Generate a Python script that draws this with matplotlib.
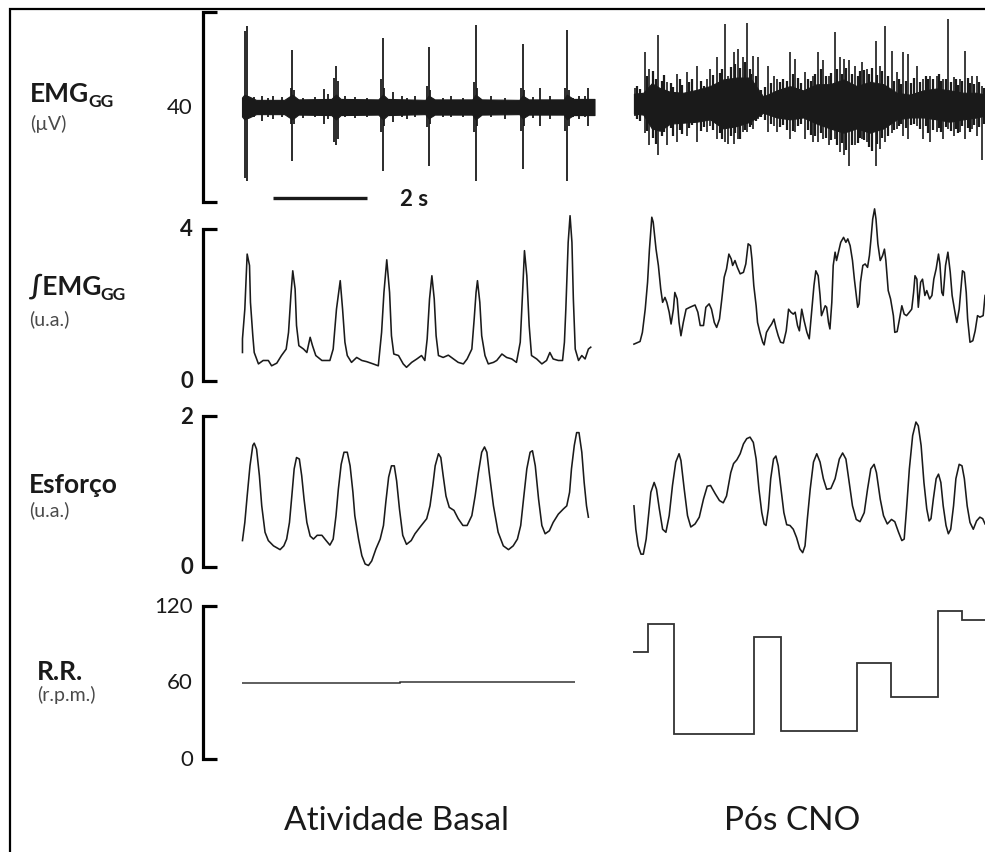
import numpy as np
import matplotlib.pyplot as plt
from matplotlib import transforms
from matplotlib.patches import Rectangle

plt.rcParams['font.family'] = ['Lato', 'DejaVu Sans']

W, H = 985, 853

# ---------------- data ----------------
# time in s (each block starts at 0), EMG in uV, integrated EMG / effort in a.u., RR in rpm

# EMG basal: background band + bursts (t, top, bottom)
emg_basal_band_t = [0.0, 0.05, 0.15, 0.3, 0.9, 1.07, 1.2, 1.9, 2.0, 2.1, 2.9, 3.0, 3.1,
                    3.9, 3.97, 4.1, 4.9, 4.97, 5.1, 5.9, 5.97, 6.1, 6.85, 6.91, 7.05, 7.5]
emg_basal_band_top = [2.0, 2.6, 2.2, 1.5, 1.5, 2.6, 1.6, 1.7, 2.6, 1.7, 1.6, 2.6, 1.7,
                      1.5, 2.4, 1.6, 1.6, 2.6, 1.6, 1.5, 2.4, 1.6, 1.6, 2.6, 1.7, 1.7]
emg_basal_band_bot = [-2.0, -2.6, -2.2, -1.5, -1.5, -2.6, -1.6, -1.7, -2.6, -1.7, -1.6, -2.6, -1.7,
                      -1.5, -2.4, -1.6, -1.6, -2.6, -1.6, -1.5, -2.4, -1.6, -1.6, -2.6, -1.7, -1.7]
emg_basal_spikes = [
    (0.06, 16.0, -15.0), (0.10, 17.1, -15.5), (1.07, 11.9, -11.3), (2.01, 8.7, -8.1),
    (2.99, 14.5, -13.4), (3.97, 12.6, -12.4), (4.97, 17.3, -15.5), (5.97, 13.3, -13.1),
    (6.91, 16.3, -15.5), (7.37, 4.1, -3.9),
    (1.04, 4.1, -3.6), (1.96, 6.2, -7.4), (2.05, 5.5, -6.7), (2.95, 5.9, -5.3),
    (3.93, 4.5, -4.3), (4.94, 5.2, -5.3), (5.94, 4.1, -5.0), (6.87, 4.1, -5.0),
    (1.10, 3.5, -3.5), (3.03, 4.0, -4.0), (4.00, 3.5, -3.5), (5.00, 4.0, -4.0),
    (6.00, 3.5, -4.0), (6.95, 3.5, -4.0),
    (0.42, 2.4, -2.9), (0.67, 2.4, -2.5), (1.75, 3.8, -3.6), (1.84, 2.7, -2.5),
    (2.19, 2.4, -2.2), (3.21, 3.1, -3.2), (3.68, 2.4, -2.2), (4.28, 2.0, -2.2),
    (6.34, 4.1, -3.9), (6.55, 2.4, -2.5), (7.16, 2.4, -2.5), (0.25, 2.2, -2.0),
    (0.55, 2.0, -2.2), (0.85, 2.2, -2.0), (1.30, 2.0, -2.4), (1.55, 2.2, -2.0),
    (2.40, 2.2, -2.4), (2.65, 2.0, -2.0), (3.40, 2.4, -2.2), (3.50, 2.0, -2.6),
    (4.45, 2.3, -2.0), (4.70, 2.0, -2.2), (5.30, 2.4, -2.0), (5.60, 2.0, -2.5),
    (6.20, 2.2, -2.3), (7.05, 2.0, -2.2), (7.30, 2.3, -2.0),
]

# EMG after CNO: dense core envelope + spikes
emg_cno_core_t = [0.02, 0.22, 0.40, 0.57, 0.79, 1.07, 1.35, 1.64, 1.92, 2.21, 2.49, 2.77, 3.06, 3.34,
                  3.62, 3.91, 4.19, 4.48, 4.76, 5.04, 5.33, 5.61, 5.89, 6.18, 6.46, 6.74, 7.03, 7.31, 7.49]
emg_cno_core_top = [2.8, 3.0, 5.0, 4.0, 3.2, 3.0, 3.6, 4.4, 5.8, 6.2, 6.2, 2.2, 3.5, 4.4,
                    3.5, 4.8, 4.8, 5.8, 4.4, 5.3, 4.8, 3.0, 2.6, 3.5, 3.9, 3.5, 3.0, 3.0, 2.6]
emg_cno_core_bot = [-1.4, -1.6, -4.5, -5.0, -3.5, -3.3, -3.1, -2.6, -4.5, -4.0, -3.1, -1.2, -2.2, -2.6,
                    -2.2, -3.5, -4.5, -5.4, -4.5, -5.4, -4.5, -2.6, -2.2, -2.2, -2.6, -3.1, -2.6, -2.2, -1.8]
emg_cno_spikes = [
    (0.04, 4.1, -1.8), (0.26, 11.6, -5.5), (0.35, 8.1, -8.1), (0.54, 15.2, -10.2),
    (0.72, 5.2, -8.1), (0.93, 6.9, -7.4), (1.14, 7.3, -6.0), (1.36, 8.7, -7.4),
    (1.57, 6.0, -5.3), (1.64, 8.0, -3.9), (1.78, 10.5, -6.7), (1.96, 17.5, -7.4),
    (2.03, 6.6, -7.8), (2.14, 11.5, -7.8), (2.24, 12.2, -6.7), (2.35, 10.5, -5.3),
    (2.43, 17.7, -5.3), (2.56, 10.8, -4.6), (2.67, 10.5, -2.5), (2.88, 8.7, -5.3),
    (2.99, 6.6, -3.9), (3.06, 6.0, -5.3), (3.34, 11.5, -6.7), (3.45, 10.1, -5.3),
    (3.66, 7.4, -6.7), (3.84, 6.6, -7.4), (3.94, 11.5, -7.4), (4.05, 9.8, -6.7),
    (4.16, 6.6, -8.1), (4.30, 15.7, -6.7), (4.40, 10.5, -9.5), (4.48, 10.1, -10.2),
    (4.60, 9.8, -12.4), (4.72, 8.7, -8.1), (4.87, 9.4, -6.7), (4.97, 8.0, -7.4),
    (5.16, 13.9, -12.4), (5.26, 8.7, -8.8), (5.36, 17.1, -7.4), (5.50, 11.8, -5.5),
    (5.61, 7.3, -4.6), (5.75, 11.5, -6.0), (5.86, 11.2, -6.7), (6.04, 8.7, -3.9),
    (6.18, 6.0, -6.7), (6.32, 6.6, -7.4), (6.46, 6.6, -5.3), (6.60, 6.0, -6.7),
    (6.71, 18.5, -4.6), (6.82, 6.3, -6.0), (6.96, 6.0, -5.3), (7.06, 11.8, -6.7),
    (7.21, 6.6, -4.6), (7.31, 6.6, -6.0), (7.42, 4.5, -11.2),
]
emg_cno_mid_spikes = [
    (0.08, 4.5, -2.5), (0.15, 3.8, -3.0), (0.30, 6.5, -5.0), (0.42, 7.5, -6.5), (0.48, 6.0, -7.8),
    (0.62, 5.5, -6.0), (0.67, 6.8, -5.2), (0.80, 5.0, -4.5), (0.86, 4.2, -6.2), (1.00, 5.8, -4.8),
    (1.05, 4.6, -5.6), (1.20, 5.2, -4.4), (1.26, 6.0, -3.8), (1.45, 5.5, -5.0), (1.50, 4.5, -4.2),
    (1.70, 6.8, -4.8), (1.85, 7.2, -5.5), (1.90, 8.0, -6.8), (2.08, 8.5, -6.2), (2.18, 9.0, -5.5),
    (2.28, 8.2, -6.8), (2.38, 9.5, -4.8), (2.48, 8.0, -4.2), (2.52, 7.0, -3.8), (2.62, 6.5, -3.0),
    (2.72, 3.5, -2.2), (2.80, 4.2, -2.8), (2.93, 5.0, -3.5), (3.12, 5.2, -4.2), (3.20, 6.0, -3.8),
    (3.28, 5.5, -4.8), (3.40, 7.0, -5.0), (3.52, 6.2, -4.0), (3.58, 5.0, -3.5), (3.72, 6.0, -4.8),
    (3.78, 5.5, -5.8), (3.88, 7.0, -6.0), (4.00, 8.0, -5.5), (4.10, 6.5, -6.5), (4.22, 7.2, -7.0),
    (4.35, 8.0, -8.0), (4.44, 7.0, -7.5), (4.53, 8.2, -9.0), (4.65, 7.0, -8.0), (4.78, 6.5, -7.5),
    (4.82, 7.5, -6.5), (4.92, 7.8, -7.0), (5.02, 7.0, -8.5), (5.08, 8.2, -9.2), (5.20, 6.8, -7.8),
    (5.30, 7.5, -6.5), (5.42, 6.5, -6.0), (5.55, 5.5, -4.8), (5.66, 6.0, -4.0), (5.70, 4.8, -3.6),
    (5.80, 5.5, -4.5), (5.92, 5.0, -3.8), (5.98, 6.2, -3.5), (6.10, 5.2, -4.6), (6.24, 6.5, -4.0),
    (6.28, 5.8, -5.5), (6.38, 6.0, -4.8), (6.50, 7.0, -4.5), (6.55, 5.5, -5.2), (6.66, 6.0, -4.2),
    (6.76, 5.2, -5.0), (6.88, 5.8, -4.6), (6.92, 4.6, -5.5), (7.00, 5.5, -4.0), (7.12, 6.2, -4.5),
    (7.16, 5.0, -5.2), (7.26, 4.8, -3.8), (7.36, 5.2, -4.2), (7.46, 4.0, -3.5),
]

# integrated EMG (a.u.)
iemg_basal = [
    (0.01, 0.75), (0.01, 1.11), (0.06, 1.89), (0.09, 2.77), (0.11, 3.34), (0.16, 3.04), (0.18, 2.07),
    (0.23, 1.19), (0.26, 0.75), (0.35, 0.45), (0.45, 0.54), (0.56, 0.54), (0.63, 0.40), (0.74, 0.47),
    (0.84, 0.67), (0.94, 0.84), (0.99, 1.28), (1.04, 2.25), (1.08, 2.90), (1.13, 2.42), (1.16, 1.46),
    (1.21, 0.93), (1.31, 0.84), (1.38, 0.75), (1.45, 1.15), (1.50, 0.93), (1.57, 0.67), (1.70, 0.54),
    (1.87, 0.54), (1.94, 0.84), (2.01, 1.89), (2.09, 2.64), (2.14, 1.89), (2.19, 1.02), (2.24, 0.67),
    (2.33, 0.49), (2.44, 0.62), (2.55, 0.54), (2.65, 0.51), (2.79, 0.45), (2.90, 0.40), (2.97, 1.28),
    (3.02, 2.33), (3.08, 3.19), (3.14, 2.33), (3.18, 1.19), (3.23, 0.71), (3.33, 0.67), (3.43, 0.45),
    (3.50, 0.36), (3.61, 0.49), (3.72, 0.58), (3.82, 0.67), (3.89, 0.54), (3.94, 1.11), (3.99, 2.16),
    (4.04, 2.77), (4.09, 2.16), (4.13, 1.19), (4.18, 0.67), (4.28, 0.62), (4.39, 0.68), (4.50, 0.58),
    (4.60, 0.49), (4.71, 0.45), (4.79, 0.58), (4.89, 0.84), (4.94, 1.63), (4.98, 2.33), (5.01, 2.64),
    (5.06, 2.07), (5.10, 1.19), (5.17, 0.67), (5.24, 0.45), (5.35, 0.49), (5.42, 0.54), (5.53, 0.71),
    (5.63, 0.62), (5.74, 0.58), (5.84, 0.49), (5.92, 1.02), (5.97, 2.33), (6.01, 3.43), (6.06, 2.77),
    (6.11, 1.46), (6.16, 0.67), (6.27, 0.58), (6.38, 0.45), (6.48, 0.54), (6.55, 0.75), (6.62, 0.58),
    (6.73, 0.54), (6.82, 0.54), (6.86, 1.02), (6.89, 1.89), (6.94, 3.65), (6.98, 4.35), (7.02, 3.65),
    (7.05, 2.16), (7.09, 0.84), (7.16, 0.54), (7.23, 0.67), (7.30, 0.58), (7.37, 0.84), (7.42, 0.89),
]
iemg_cno = [
    (0.02, 0.97), (0.15, 1.04), (0.20, 1.28), (0.26, 1.89), (0.31, 2.60), (0.35, 3.47), (0.40, 4.31),
    (0.43, 4.18), (0.49, 3.47), (0.54, 3.04), (0.59, 2.42), (0.63, 2.07), (0.68, 2.20), (0.72, 2.07),
    (0.77, 1.81), (0.81, 1.50), (0.86, 1.89), (0.89, 2.33), (0.94, 2.16), (0.98, 1.54), (1.02, 1.19),
    (1.07, 1.54), (1.13, 1.89), (1.21, 1.94), (1.32, 2.00), (1.38, 1.81), (1.43, 1.46), (1.50, 1.46),
    (1.55, 1.94), (1.62, 2.03), (1.67, 1.89), (1.73, 1.54), (1.78, 1.41), (1.84, 1.63), (1.89, 2.16),
    (1.94, 2.73), (1.99, 2.95), (2.04, 3.34), (2.09, 3.21), (2.12, 3.04), (2.17, 3.17), (2.22, 2.99),
    (2.28, 2.82), (2.35, 2.86), (2.40, 3.08), (2.45, 3.61), (2.50, 3.56), (2.53, 3.21), (2.57, 2.51),
    (2.62, 1.98), (2.65, 1.54), (2.70, 1.28), (2.76, 1.02), (2.79, 0.95), (2.84, 1.28), (2.90, 1.41),
    (2.95, 1.50), (3.00, 1.63), (3.04, 1.41), (3.09, 1.19), (3.14, 1.02), (3.20, 1.00), (3.26, 1.32),
    (3.31, 1.89), (3.36, 1.81), (3.41, 1.76), (3.45, 1.81), (3.50, 1.46), (3.54, 1.32), (3.59, 1.89),
    (3.64, 1.59), (3.70, 1.28), (3.75, 1.11), (3.80, 1.81), (3.85, 2.51), (3.89, 2.90), (3.94, 2.77),
    (3.98, 2.25), (4.01, 1.72), (4.05, 1.85), (4.09, 1.98), (4.12, 1.94), (4.16, 1.54), (4.19, 1.37),
    (4.23, 2.07), (4.26, 3.04), (4.30, 3.39), (4.33, 3.17), (4.38, 3.43), (4.42, 3.65), (4.48, 3.78),
    (4.53, 3.65), (4.57, 3.74), (4.62, 3.56), (4.67, 3.17), (4.71, 2.68), (4.75, 2.25), (4.78, 1.94),
    (4.81, 2.03), (4.84, 2.60), (4.89, 3.04), (4.94, 3.08), (4.99, 2.99), (5.03, 3.30), (5.06, 3.69),
    (5.10, 4.26), (5.14, 4.53), (5.17, 4.26), (5.21, 3.61), (5.26, 3.17), (5.31, 3.30), (5.35, 3.47),
    (5.38, 3.17), (5.43, 2.38), (5.48, 2.16), (5.54, 1.72), (5.57, 1.28), (5.62, 1.30), (5.67, 1.63),
    (5.72, 1.98), (5.77, 1.76), (5.82, 1.72), (5.88, 1.81), (5.93, 1.89), (5.97, 2.33), (6.00, 2.77),
    (6.04, 2.68), (6.07, 1.94), (6.12, 2.60), (6.16, 2.68), (6.21, 2.25), (6.25, 2.38), (6.31, 2.16),
    (6.36, 2.25), (6.40, 2.68), (6.45, 2.95), (6.50, 3.34), (6.53, 3.08), (6.57, 2.33), (6.60, 2.25),
    (6.65, 3.04), (6.70, 3.39), (6.75, 2.86), (6.79, 2.25), (6.85, 1.81), (6.89, 1.54), (6.94, 1.89),
    (6.97, 2.33), (7.01, 2.90), (7.05, 2.86), (7.09, 2.33), (7.12, 1.63), (7.17, 1.02), (7.23, 1.06),
    (7.28, 1.32), (7.33, 1.72), (7.38, 1.68), (7.45, 1.72), (7.49, 2.25),
]

# respiratory effort (a.u.)
effort_basal = [
    (0.01, 0.35), (0.06, 0.59), (0.11, 0.94), (0.17, 1.34), (0.23, 1.61), (0.26, 1.64), (0.31, 1.56),
    (0.37, 1.21), (0.42, 0.81), (0.49, 0.46), (0.56, 0.35), (0.67, 0.28), (0.81, 0.23), (0.89, 0.28),
    (0.95, 0.37), (1.01, 0.59), (1.06, 0.94), (1.11, 1.30), (1.16, 1.45), (1.22, 1.43), (1.27, 1.21),
    (1.32, 0.90), (1.38, 0.59), (1.45, 0.41), (1.52, 0.37), (1.60, 0.42), (1.70, 0.42), (1.79, 0.35),
    (1.87, 0.29), (1.94, 0.37), (2.00, 0.68), (2.05, 1.03), (2.11, 1.36), (2.17, 1.52), (2.24, 1.52),
    (2.30, 1.34), (2.36, 0.99), (2.40, 0.68), (2.48, 0.37), (2.55, 0.15), (2.62, 0.04), (2.69, 0.02),
    (2.76, 0.08), (2.85, 0.24), (2.94, 0.37), (3.01, 0.55), (3.06, 0.86), (3.12, 1.19), (3.18, 1.34),
    (3.24, 1.34), (3.29, 1.14), (3.35, 0.77), (3.42, 0.42), (3.50, 0.30), (3.60, 0.35), (3.68, 0.44),
    (3.79, 0.53), (3.93, 0.64), (4.00, 0.81), (4.06, 1.08), (4.11, 1.34), (4.18, 1.50), (4.23, 1.45),
    (4.28, 1.21), (4.34, 0.94), (4.41, 0.79), (4.51, 0.75), (4.60, 0.64), (4.70, 0.55), (4.79, 0.55),
    (4.89, 0.68), (4.96, 0.94), (5.03, 1.25), (5.10, 1.52), (5.16, 1.59), (5.21, 1.52), (5.26, 1.25),
    (5.35, 0.81), (5.45, 0.46), (5.56, 0.28), (5.67, 0.23), (5.77, 0.28), (5.86, 0.37), (5.93, 0.55),
    (5.99, 0.90), (6.06, 1.30), (6.13, 1.52), (6.18, 1.54), (6.24, 1.34), (6.31, 0.90), (6.38, 0.55),
    (6.45, 0.44), (6.54, 0.48), (6.62, 0.59), (6.73, 0.70), (6.84, 0.77), (6.91, 0.81), (6.97, 0.99),
    (7.01, 1.30), (7.07, 1.61), (7.12, 1.78), (7.17, 1.78), (7.23, 1.52), (7.28, 1.12), (7.33, 0.81),
    (7.37, 0.66),
]
effort_cno = [
    (0.02, 0.81), (0.06, 0.50), (0.11, 0.28), (0.17, 0.17), (0.22, 0.17), (0.28, 0.37), (0.33, 0.68),
    (0.38, 0.99), (0.45, 1.12), (0.50, 1.03), (0.56, 0.77), (0.63, 0.50), (0.70, 0.46), (0.77, 0.68),
    (0.84, 1.08), (0.91, 1.39), (0.98, 1.50), (1.02, 1.41), (1.09, 1.03), (1.16, 0.68), (1.23, 0.53),
    (1.32, 0.57), (1.41, 0.66), (1.50, 0.90), (1.58, 1.07), (1.65, 1.08), (1.75, 0.97), (1.84, 0.88),
    (1.92, 0.85), (1.99, 0.94), (2.08, 1.25), (2.14, 1.37), (2.21, 1.42), (2.28, 1.50), (2.35, 1.63),
    (2.42, 1.70), (2.49, 1.72), (2.56, 1.65), (2.62, 1.43), (2.68, 1.03), (2.74, 0.72), (2.79, 0.57),
    (2.83, 0.55), (2.88, 0.77), (2.93, 1.17), (2.99, 1.43), (3.04, 1.47), (3.09, 1.34), (3.15, 1.03),
    (3.21, 0.72), (3.27, 0.56), (3.34, 0.55), (3.41, 0.50), (3.48, 0.39), (3.55, 0.24), (3.61, 0.19),
    (3.66, 0.28), (3.71, 0.64), (3.77, 1.03), (3.84, 1.39), (3.91, 1.50), (3.98, 1.39), (4.05, 1.17),
    (4.12, 1.03), (4.21, 1.04), (4.30, 1.17), (4.39, 1.43), (4.46, 1.51), (4.53, 1.43), (4.60, 1.12),
    (4.67, 0.81), (4.75, 0.63), (4.83, 0.60), (4.92, 0.72), (4.99, 1.03), (5.06, 1.30), (5.13, 1.36),
    (5.18, 1.25), (5.26, 0.90), (5.33, 0.68), (5.41, 0.57), (5.50, 0.63), (5.57, 0.60), (5.65, 0.46),
    (5.72, 0.35), (5.77, 0.37), (5.82, 0.77), (5.88, 1.30), (5.95, 1.74), (6.02, 1.92), (6.07, 1.87),
    (6.13, 1.61), (6.19, 1.12), (6.25, 0.77), (6.30, 0.61), (6.34, 0.64), (6.39, 0.90), (6.45, 1.17),
    (6.50, 1.23), (6.55, 1.12), (6.60, 0.81), (6.66, 0.55), (6.71, 0.44), (6.76, 0.50), (6.82, 0.81),
    (6.87, 1.17), (6.94, 1.36), (7.00, 1.34), (7.05, 1.17), (7.11, 0.81), (7.17, 0.59), (7.24, 0.50),
    (7.31, 0.61), (7.38, 0.66), (7.44, 0.64), (7.49, 0.57),
]

# respiratory rate (rpm), step edges in s
rr_basal_edges = [0.0, 3.36, 7.09]
rr_basal_values = [59.5, 60.5]
rr_cno_edges = [0.0, 0.32, 0.87, 2.57, 3.15, 4.77, 5.49, 6.49, 7.0, 7.49]
rr_cno_values = [84, 106, 20, 96, 22, 75, 49, 116, 109]

scale_bar_s = 2.0

row_names = ['EMG', '\u222bEMG', 'Esfor\u00e7o', 'R.R.']
row_subs = ['GG', 'GG', '', '']
row_units = ['(\u00b5V)', '(u.a.)', '(u.a.)', '(r.p.m.)']
bracket_ranges = [(-20, 20), (0, 4), (0, 2), (0, 120)]
tick_labels = [[(0, '40')], [(4, '4'), (0, '0')], [(2, '2'), (0, '0')],
               [(120, '120'), (60, '60'), (0, '0')]]
block_labels = ['Atividade Basal', 'P\u00f3s CNO']

# ---------------- layout (pixels) ----------------
t0_px = 242          # left block start
t1_px = 633          # right block start
px_per_s = 47.0
row_zero_px = [108, 382, 568, 760]      # pixel row of value 0
row_px_per_unit = [4.75, 38.0, 75.5, 1.275]
bracket_px = 203
hook_px = 217
label_x = [30, 29, 29, 37]
label_y = [102, 295, 493, 680]
unit_y = [130, 325, 516, 701]
tick_bold = [False, True, True, False]

ink = '#1a1a1a'
shift = (t1_px - t0_px) / px_per_s

fig = plt.figure(figsize=(W / 100, H / 100), dpi=100)


def fx(px):
    return px / W


def fy(py):
    return 1 - py / H


def row_axes(i):
    ax = fig.add_axes([0, 0, 1, 1])
    ax.set_facecolor('none')
    ax.axis('off')
    ax.set_xlim(-t0_px / px_per_s, (W - t0_px) / px_per_s)
    z, k = row_zero_px[i], row_px_per_unit[i]
    ax.set_ylim((z - H) / k, z / k)
    return ax


def sec(px):
    return (px - t0_px) / px_per_s


axes = [row_axes(i) for i in range(4)]

# EMG
ax = axes[0]
ax.fill_between(emg_basal_band_t, emg_basal_band_bot, emg_basal_band_top, color=ink, lw=0.8)
t, top, bot = np.array(emg_basal_spikes).T
ax.vlines(t, bot, top, color=ink, lw=1.3)
ax.fill_between(np.array(emg_cno_core_t) + shift, emg_cno_core_bot, emg_cno_core_top, color=ink, lw=0.8)
t, top, bot = np.array(emg_cno_mid_spikes).T
ax.vlines(t + shift, bot, top, color=ink, lw=1.6)
t, top, bot = np.array(emg_cno_spikes).T
ax.vlines(t + shift, bot, top, color=ink, lw=1.2)
# time scale bar
sb_y = (row_zero_px[0] - 199) / row_px_per_unit[0]
ax.plot([sec(273), sec(273) + scale_bar_s], [sb_y, sb_y], color=ink, lw=2.4, solid_capstyle='butt')
ax.text(sec(273) + scale_bar_s + 0.7, sb_y, '%d s' % scale_bar_s, fontsize=16, fontweight='bold',
        va='center', ha='left', color=ink)

# integrated EMG
t, v = np.array(iemg_basal).T
axes[1].plot(t, v, color=ink, lw=1.15)
t, v = np.array(iemg_cno).T
axes[1].plot(t + shift, v, color=ink, lw=1.15)

# effort
t, v = np.array(effort_basal).T
axes[2].plot(t, v, color=ink, lw=1.15)
t, v = np.array(effort_cno).T
axes[2].plot(t + shift, v, color=ink, lw=1.15)

# RR
axes[3].stairs(rr_basal_values, rr_basal_edges, baseline=None, color='#333333', lw=1.1)
axes[3].stairs(rr_cno_values, np.array(rr_cno_edges) + shift, baseline=None, color='#333333', lw=1.3)

# brackets, tick labels and row labels
fig.canvas.draw()
for i, ax in enumerate(axes):
    lo, hi = bracket_ranges[i]
    ax.plot([sec(hook_px), sec(bracket_px), sec(bracket_px), sec(hook_px)], [hi, hi, lo, lo],
            color='black', lw=2.3, solid_joinstyle='miter', solid_capstyle='butt')
    tr = transforms.blended_transform_factory(fig.transFigure, ax.transData)
    for val, lab in tick_labels[i]:
        ax.text(fx(193), val, lab, transform=tr, ha='right', va='center', fontsize=16,
                fontweight='bold' if tick_bold[i] else 'normal', color=ink)
    nm = fig.text(fx(label_x[i]), fy(label_y[i]), row_names[i], fontsize=19, fontweight='bold',
                  ha='left', va='baseline', color=ink)
    if row_subs[i]:
        bb = nm.get_window_extent(renderer=fig.canvas.get_renderer())
        fig.text(bb.x1 / W - 0.001, fy(label_y[i] + 5), row_subs[i], fontsize=12.5, fontweight='bold',
                 ha='left', va='baseline', color=ink)
    fig.text(fx(label_x[i]), fy(unit_y[i]), row_units[i], fontsize=14, ha='left', va='baseline',
             color='#4a4a4a')

# block labels
fig.text(fx(397), fy(830), block_labels[0], fontsize=24, ha='center', va='baseline', color=ink)
fig.text(fx(792), fy(830), block_labels[1], fontsize=24, ha='center', va='baseline', color=ink)

# outer frame
fig.patches.append(Rectangle((fx(10), fy(H + 10)), 1.2, fy(10) - fy(H + 10), transform=fig.transFigure,
                             fill=False, ec='black', lw=1.6))

fig.savefig('out.png', dpi=100)
